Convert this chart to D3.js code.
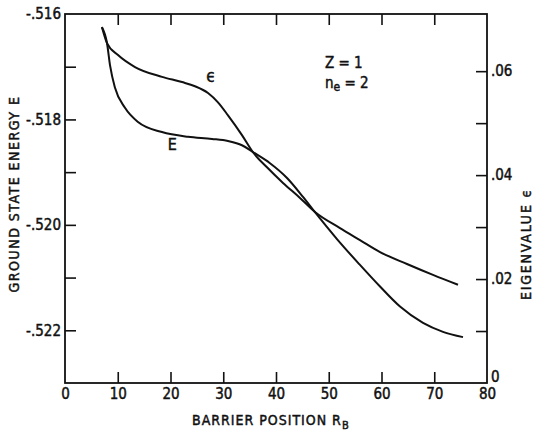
<!DOCTYPE html>
<html lang="en">
  <head>
    <meta charset="UTF-8" />
    <title>Ground state energy vs barrier position</title>
    <script src="https://d3js.org/d3.v7.min.js"></script>
    <style>
      body { margin: 0; background: #fff; }
      svg { display: block; }
      .tick text, .lbl {
        font-family: "DejaVu Sans Condensed", "DejaVu Sans", sans-serif;
        font-stretch: condensed;
        fill: #111;
        stroke: #111;
        stroke-width: 0.45px;
      }
      .domain { display: none; }
      .tick line { stroke: #111; stroke-width: 1.6; }
    </style>
  </head>
  <body>
    <svg id="chart" width="537" height="432"></svg>
    <script>
      // barrier position R_B and ground state energy E (left axis)
      const rbE = [7.0, 7.96, 8.53, 9.48, 11.37, 13.84, 18.39, 23.32, 27.87, 30.9, 33.55, 35.64,
                   38.86, 42.09, 45.12, 47.39, 51.56, 55.92, 59.72, 63.51, 67.87, 71.66, 75.45];
      const energyE = [-.51625, -.51655, -.51697, -.51740, -.51778, -.51805, -.51824, -.51833, -.51837,
                       -.51841, -.51849, -.51862, -.51883, -.51911, -.51947, -.51976, -.52027, -.52076,
                       -.52117, -.52155, -.52186, -.52203, -.52213];

      // barrier position R_B and eigenvalue epsilon (right axis)
      const rbEps = [7.0, 7.96, 10.05, 13.27, 18.39, 22.18, 24.64, 27.11, 29.0, 30.9, 33.55, 35.64,
                     38.29, 41.33, 44.55, 47.39, 52.13, 55.92, 59.72, 64.83, 69.76, 74.5];
      const eigenEps = [.0685, .0654, .0631, .0608, .0589, .0579, .0571, .0558, .0540, .0515, .0477,
                        .0444, .0415, .0385, .0356, .0329, .0298, .0275, .0252, .0229, .0208, .0189];

      const xTicks = [0, 10, 20, 30, 40, 50, 60, 70, 80];
      const eTicks = [-.516, -.517, -.518, -.519, -.520, -.521, -.522];
      const eLabels = [-.516, -.518, -.520, -.522];
      const epsTicks = [0, .01, .02, .03, .04, .05, .06];
      const epsLabels = [0, .02, .04, .06];

      const mLeft = 65, mRight = 487, mTop = 14, mBottom = 383;
      const svg = d3.select("#chart");

      const x = d3.scaleLinear().domain([0, 80]).range([mLeft, mRight]);
      const yE = d3.scaleLinear().domain([-.523, -.516]).range([mBottom, mTop]);
      const yEps = d3.scaleLinear().domain([0, .071]).range([mBottom, mTop]);

      const fmt = d => d.toFixed(3).replace("0.", ".");
      const fmt2 = d => d === 0 ? "0" : d.toFixed(2).replace("0.", ".");

      // frame
      svg.append("rect")
        .attr("x", mLeft).attr("y", mTop)
        .attr("width", mRight - mLeft).attr("height", mBottom - mTop)
        .attr("fill", "none").attr("stroke", "#111").attr("stroke-width", 1.8);

      // bottom axis, ticks pointing up
      svg.append("g")
        .attr("transform", `translate(0,${mBottom})`)
        .call(d3.axisBottom(x).tickValues(xTicks).tickSize(-11).tickPadding(5)
          .tickFormat(d3.format("d")))
        .call(g => g.selectAll(".tick text").attr("font-size", 15))
        .call(g => g.selectAll(".tick line").filter(d => d === 0 || d === 80).remove());

      // top axis, ticks only
      svg.append("g")
        .attr("transform", `translate(0,${mTop})`)
        .call(d3.axisTop(x).tickValues(xTicks.slice(1, -1)).tickSize(-11).tickFormat(""));

      // left axis (E)
      svg.append("g")
        .attr("transform", `translate(${mLeft},0)`)
        .call(d3.axisLeft(yE).tickValues(eTicks).tickSize(-11).tickPadding(4)
          .tickFormat(d => eLabels.some(v => Math.abs(v - d) < 1e-9) ? fmt(d) : ""))
        .call(g => g.selectAll(".tick text").attr("font-size", 15))
        .call(g => g.selectAll(".tick line").filter(d => d === -.516).remove());

      // right axis (epsilon)
      svg.append("g")
        .attr("transform", `translate(${mRight},0)`)
        .call(d3.axisRight(yEps).tickValues(epsTicks).tickSize(-11).tickPadding(4)
          .tickFormat(d => epsLabels.some(v => Math.abs(v - d) < 1e-9) ? fmt2(d) : ""))
        .call(g => g.selectAll(".tick text").attr("font-size", 15))
        .call(g => g.selectAll(".tick line").filter(d => d === 0).remove())
        .call(g => g.selectAll(".tick text").filter(d => d === 0).attr("dy", "-0.1em"));

      // curves
      const lineE = d3.line()
        .x((d, i) => x(rbE[i]))
        .y(d => yE(d))
        .curve(d3.curveMonotoneX);
      const lineEps = d3.line()
        .x((d, i) => x(rbEps[i]))
        .y(d => yEps(d))
        .curve(d3.curveMonotoneX);

      svg.append("path").attr("d", lineE(energyE))
        .attr("fill", "none").attr("stroke", "#111").attr("stroke-width", 2);
      svg.append("path").attr("d", lineEps(eigenEps))
        .attr("fill", "none").attr("stroke", "#111").attr("stroke-width", 2);

      // curve labels
      svg.append("text").attr("class", "lbl")
        .attr("x", x(19.5)).attr("y", yE(-.51858)).attr("font-size", 16).text("E");
      svg.append("text").attr("class", "lbl")
        .attr("x", x(26.8)).attr("y", yEps(.0579)).attr("font-size", 17).text("ϵ");

      // parameters
      svg.append("text").attr("class", "lbl")
        .attr("x", 325).attr("y", 68).attr("font-size", 15).text("Z = 1");
      const ne = svg.append("text").attr("class", "lbl")
        .attr("x", 325).attr("y", 88).attr("font-size", 15);
      ne.append("tspan").text("n");
      ne.append("tspan").attr("dy", 3).attr("font-size", 12).text("e");
      ne.append("tspan").attr("dy", -3).text(" = 2");

      // axis titles
      const xt = svg.append("text").attr("class", "lbl")
        .attr("x", 192).attr("y", 425).attr("font-size", 14)
        .attr("letter-spacing", 1.0);
      xt.append("tspan").text("BARRIER POSITION R");
      xt.append("tspan").attr("dy", 4).attr("font-size", 11).text("B");

      svg.append("text").attr("class", "lbl")
        .attr("transform", `translate(19,194) rotate(-90)`)
        .attr("text-anchor", "middle").attr("font-size", 14)
        .attr("letter-spacing", 1.5)
        .text("GROUND STATE ENERGY E");

      svg.append("text").attr("class", "lbl")
        .attr("transform", `translate(531,244) rotate(-90)`)
        .attr("text-anchor", "middle").attr("font-size", 14)
        .attr("letter-spacing", 1.8)
        .text("EIGENVALUE   ϵ");
    </script>
  </body>
</html>
